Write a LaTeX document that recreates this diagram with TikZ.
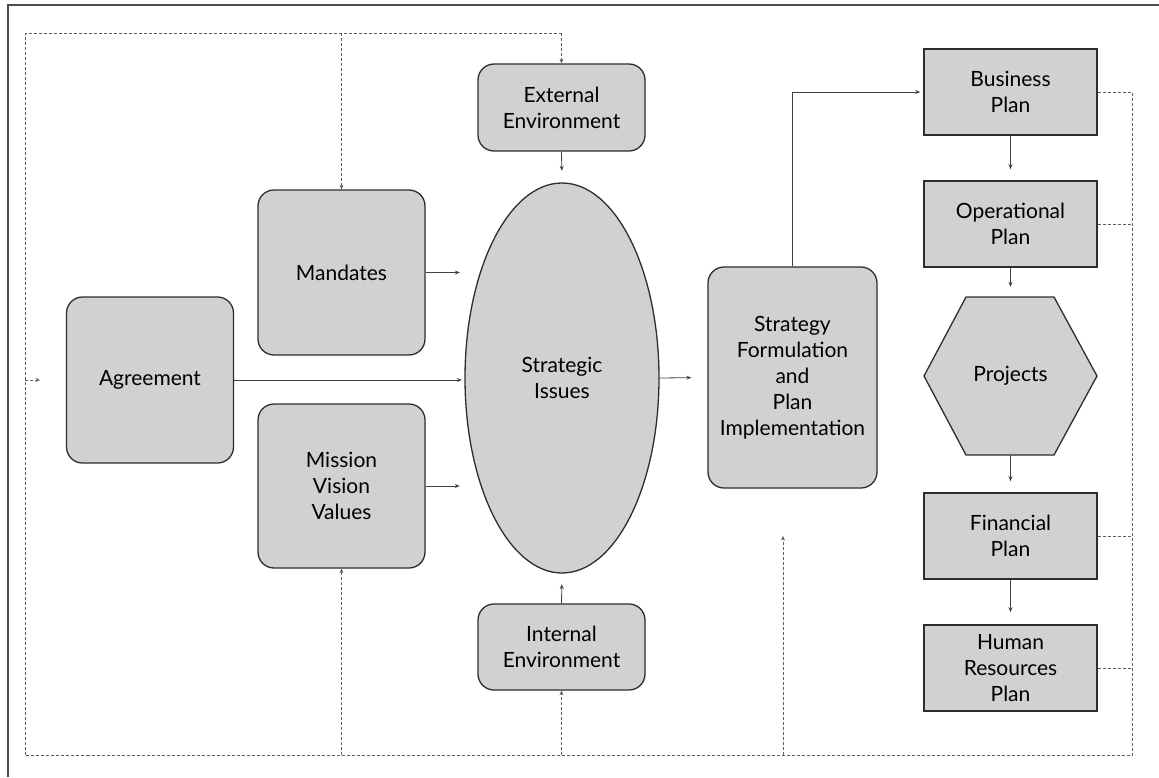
\documentclass[tikz,border=0pt]{standalone}
\usepackage{fontspec}
\setmainfont{Lato}
\usetikzlibrary{arrows.meta,calc}
\definecolor{boxgray}{RGB}{209,209,209}
\definecolor{edge}{RGB}{45,45,45}
\definecolor{dashc}{RGB}{95,95,95}
\begin{document}
\begin{tikzpicture}[x=1pt,y=-1pt,
  base/.style={draw=edge,fill=boxgray,line width=1.3pt,inner sep=0pt,align=center,
    font=\fontsize{21}{26}\selectfont,text=black},
  rbox/.style={base,rounded corners=16pt},
  sbox/.style={base,rounded corners=0pt,line width=1.5pt},
  arr/.style={draw=edge!90,line width=0.8pt,-{Stealth[length=5pt,width=4pt]}},
  dsh/.style={draw=dashc,line width=0.8pt,dash pattern=on 3pt off 2pt},
  darr/.style={dsh,-{Stealth[length=4.5pt,width=4pt]}},
  lbl/.style={inner sep=0pt,align=center,font=\fontsize{21}{26}\selectfont,text=black}
]
\useasboundingbox (0,0) rectangle (1159,777);
\fill[white] (0,0) rectangle (1159,777);
% outer frame
\draw[line width=1.5pt,edge!85] (8,777) -- (8,5) -- (1159,5);

% nodes
\node[rbox,minimum width=167pt,minimum height=87pt] (ext) at (561.5,107.5) {External\\Environment};
\node[rbox,minimum width=167pt,minimum height=86pt] (int) at (561.5,647) {Internal\\Environment};
\node[rbox,minimum width=167pt,minimum height=165pt] (mand) at (341.5,272.5) {Mandates};
\node[rbox,minimum width=167pt,minimum height=164pt] (miss) at (341.5,486) {Mission\\Vision\\Values};
\node[rbox,minimum width=167pt,minimum height=166pt] (agr) at (150,380) {Agreement};
\draw[edge,fill=boxgray,line width=1.3pt] (562,378) ellipse [x radius=97pt,y radius=195pt];
\node[lbl,minimum width=194pt,minimum height=390pt] (iss) at (562,378) {Strategic\\Issues};
\node[rbox,minimum width=169pt,minimum height=221pt] (strat) at (792.5,377.5) {Strategy\\Formulation\\and\\Plan\\Implementation};
\node[sbox,minimum width=173pt,minimum height=86pt] (bus) at (1010.5,92) {Business\\Plan};
\node[sbox,minimum width=173pt,minimum height=86pt] (op) at (1010.5,224) {Operational\\Plan};
\draw[edge,fill=boxgray,line width=1.3pt] (924,376) -- (966,297) -- (1054,297) -- (1097,376) -- (1054,455) -- (966,455) -- cycle;
\node[lbl,minimum width=173pt,minimum height=158pt] (proj) at (1010.5,376) {Projects};
\node[sbox,minimum width=173pt,minimum height=86pt] (fin) at (1010.5,536) {Financial\\Plan};
\node[sbox,minimum width=173pt,minimum height=86pt] (hr) at (1010.5,668) {Human\\Resources\\Plan};

% solid arrows
\draw[arr,shorten >=12pt] (ext.south) -- (iss.north);
\draw[arr,shorten >=11pt] (int.north) -- (iss.south);
\draw[arr,shorten >=5pt] (mand.east) -- (mand.east -| iss.west);
\draw[arr,shorten >=3pt] (agr.east) -- (agr.east -| iss.west);
\draw[arr,shorten >=5pt] (miss.east) -- (miss.east -| iss.west);
\draw[arr,shorten >=16pt] (iss.east) -- (strat.west);
\draw[arr,shorten >=3pt] (strat.north) |- (bus.west);
\draw[arr,shorten >=11pt] (bus.south) -- (op.north);
\draw[arr,shorten >=10pt] (op.south) -- (proj.north);
\draw[arr,shorten >=11pt] (proj.south) -- (fin.north);
\draw[arr,shorten >=12pt] (fin.south) -- (hr.north);

% dashed feedback loop
\coordinate (lt) at (25,33);
\coordinate (lb) at (25,755);
\coordinate (rb) at (1132,755);
\coordinate (la) at (40,380);
\coordinate (fb) at (783,536);
\draw[dsh] (ext.north |- lt) -- (lt) -- (lb) -- (rb) -- (bus.east -| rb) -- (bus.east);
\draw[dsh] (op.east) -- (op.east -| rb);
\draw[dsh] (fin.east) -- (fin.east -| rb);
\draw[dsh] (hr.east) -- (hr.east -| rb);
\draw[darr] (ext.north |- lt) -- (ext.north);
\draw[darr] (mand.north |- lt) -- (mand.north);
\draw[darr] (miss.south |- lb) -- (miss.south);
\draw[darr] (int.south |- lb) -- (int.south);
\draw[darr] (fb |- lb) -- (fb);
\draw[darr] (agr.west -| lt) -- (la);
\end{tikzpicture}
\end{document}
